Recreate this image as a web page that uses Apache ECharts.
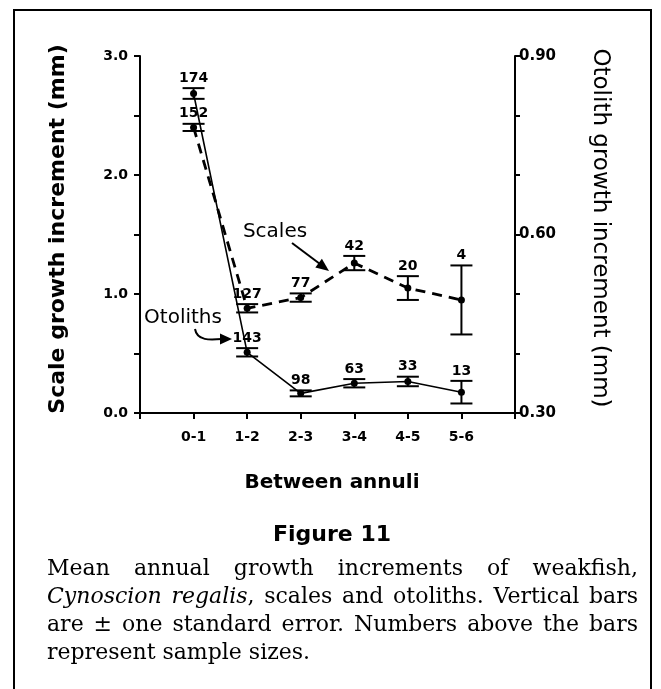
<!DOCTYPE html>
<html lang="en">

<head>
    <meta charset="UTF-8">
    <title>Figure 11</title>
    <style>
        html, body { margin: 0; padding: 0; background: #fff; }
        #chart { width: 661px; height: 689px; }
    </style>
</head>

<body onload="setup()">
    <div id="chart"></div>
    <script src="https://cdn.jsdelivr.net/npm/echarts@6/dist/echarts.min.js"></script>
    <script>
        // annulus intervals on the x axis
        var categories = ['0-1', '1-2', '2-3', '3-4', '4-5', '5-6']

        // scales (left axis, mm), dashed line
        var scaleMean = [2.40, 0.88, 0.97, 1.26, 1.05, 0.95]
        var scaleSE = [0.03, 0.035, 0.035, 0.06, 0.10, 0.29]
        var scaleN = [152, 127, 77, 42, 20, 4]

        // otoliths (right axis, mm), solid line
        var otolithMean = [0.837, 0.402, 0.333, 0.350, 0.353, 0.335]
        var otolithSE = [0.009, 0.007, 0.005, 0.007, 0.008, 0.019]
        var otolithN = [174, 143, 98, 63, 33, 13]

        var leftTicks = [0.0, 1.0, 2.0, 3.0]
        var rightTicks = [0.30, 0.60, 0.90]

        // caption lines, *word* = italic
        var captionLines = [
            'Mean annual growth increments of weakfish,',
            '*Cynoscion* *regalis*, scales and otoliths. Vertical bars',
            'are \u00b1 one standard error. Numbers above the bars',
            'represent sample sizes.'
        ]

        var sans = '"DejaVu Sans", sans-serif'
        var serif = '"DejaVu Serif", serif'
        var capSize = 22
        var chart

        function setup() {
            chart = echarts.init(document.getElementById('chart'), null, { renderer: 'canvas' })
            chart.setOption(buildOption())
        }

        function linePoints(mean) {
            return mean.map(function (v, i) { return [i + 1, v] })
        }

        function barPoints(mean, se, n) {
            return mean.map(function (v, i) { return [i + 1, v, v - se[i], v + se[i], n[i]] })
        }

        function errorBar(params, api) {
            var x = api.value(0)
            var p = api.coord([x, api.value(1)])
            var lo = api.coord([x, api.value(2)])
            var hi = api.coord([x, api.value(3)])
            var w = 11
            var st = { stroke: '#000', lineWidth: 2 }
            return {
                type: 'group',
                children: [
                    { type: 'line', shape: { x1: p[0], y1: lo[1], x2: p[0], y2: hi[1] }, style: st },
                    { type: 'line', shape: { x1: p[0] - w, y1: hi[1], x2: p[0] + w, y2: hi[1] }, style: st },
                    { type: 'line', shape: { x1: p[0] - w, y1: lo[1], x2: p[0] + w, y2: lo[1] }, style: st },
                    { type: 'circle', shape: { cx: p[0], cy: p[1], r: 3.5 }, style: { fill: '#000' } },
                    {
                        type: 'text', x: p[0], y: hi[1] - 3,
                        style: {
                            text: String(api.value(4)), align: 'center', verticalAlign: 'bottom',
                            fontFamily: sans, fontWeight: 'bold', fontSize: 14, fill: '#000'
                        }
                    }
                ]
            }
        }

        function arrowHead(tx, ty, dx, dy, len, half) {
            var d = Math.sqrt(dx * dx + dy * dy)
            var ux = dx / d, uy = dy / d
            var bx = tx - ux * len, by = ty - uy * len
            return {
                type: 'polygon',
                shape: { points: [[tx, ty], [bx - uy * half, by + ux * half], [bx + uy * half, by - ux * half]] },
                style: { fill: '#000' }
            }
        }

        // justified caption: every word is its own text element
        var measureCtx = document.createElement('canvas').getContext('2d')
        function measure(str, italic) {
            measureCtx.font = (italic ? 'italic ' : '') + capSize + 'px ' + serif
            return measureCtx.measureText(str).width
        }

        function captionGraphics(left, right, top, lh) {
            var out = []
            captionLines.forEach(function (line, li) {
                var words = line.split(' ').map(function (w) {
                    var m = w.match(/^\*(.+)\*(.*)$/)
                    if (m) return { text: '{i|' + m[1] + '}' + m[2], width: measure(m[1], true) + measure(m[2], false) }
                    return { text: w, width: measure(w, false) }
                })
                var total = words.reduce(function (s, w) { return s + w.width }, 0)
                var last = li === captionLines.length - 1
                var gap = last ? measure(' ', false) : (right - left - total) / (words.length - 1)
                var x = left
                words.forEach(function (w) {
                    out.push({
                        type: 'text', x: x, y: top + li * lh,
                        style: {
                            text: w.text, align: 'left', verticalAlign: 'middle',
                            fontFamily: serif, fontSize: capSize, fill: '#000',
                            rich: { i: { fontStyle: 'italic', fontFamily: serif, fontSize: capSize, fill: '#000' } }
                        }
                    })
                    x += w.width + gap
                })
            })
            return out
        }

        function buildOption() {
            var labelStyle = { color: '#000', fontFamily: sans, fontWeight: 'bold' }
            return {
                animation: false,
                backgroundColor: '#fff',
                grid: { left: 140, right: 146, top: 56, bottom: 276 },
                xAxis: {
                    type: 'value', min: 0, max: 7, interval: 1,
                    axisLine: { onZero: false, lineStyle: { color: '#000', width: 2 } },
                    axisTick: { length: 6, lineStyle: { color: '#000', width: 2 } },
                    splitLine: { show: false },
                    axisLabel: Object.assign({
                        fontSize: 14, margin: 17,
                        formatter: function (v) { return categories[v - 1] || '' }
                    }, labelStyle)
                },
                yAxis: [{
                    type: 'value', min: 0, max: 3, interval: 0.5, position: 'left',
                    axisLine: { show: true, lineStyle: { color: '#000', width: 2 } },
                    axisTick: { show: true, length: 6, lineStyle: { color: '#000', width: 2 } },
                    splitLine: { show: false },
                    axisLabel: Object.assign({
                        fontSize: 14, margin: 12,
                        formatter: function (v) {
                            return leftTicks.indexOf(v) >= 0 ? v.toFixed(1) : ''
                        }
                    }, labelStyle)
                }, {
                    type: 'value', min: 0.3, max: 0.9, interval: 0.1, position: 'right',
                    axisLine: { show: true, lineStyle: { color: '#000', width: 2 } },
                    axisTick: { show: true, length: 5, lineStyle: { color: '#000', width: 2 } },
                    splitLine: { show: false },
                    axisLabel: Object.assign({
                        fontSize: 15, margin: 4,
                        formatter: function (v) {
                            var hit = rightTicks.some(function (t) { return Math.abs(t - v) < 1e-6 })
                            return hit ? v.toFixed(2) : ''
                        }
                    }, labelStyle)
                }],
                series: [{
                    name: 'Scales', type: 'line', yAxisIndex: 0, symbol: 'none',
                    data: linePoints(scaleMean),
                    lineStyle: { color: '#000', width: 2.8, type: [10, 7] }
                }, {
                    name: 'Otoliths', type: 'line', yAxisIndex: 1, symbol: 'none',
                    data: linePoints(otolithMean),
                    lineStyle: { color: '#000', width: 1.6 }
                }, {
                    name: 'Scales SE', type: 'custom', yAxisIndex: 0,
                    renderItem: errorBar, data: barPoints(scaleMean, scaleSE, scaleN)
                }, {
                    name: 'Otoliths SE', type: 'custom', yAxisIndex: 1,
                    renderItem: errorBar, data: barPoints(otolithMean, otolithSE, otolithN)
                }],
                graphic: [
                    // frame
                    { type: 'rect', shape: { x: 14, y: 10, width: 637, height: 700 }, style: { fill: 'none', stroke: '#000', lineWidth: 2 } },
                    // axis titles
                    {
                        type: 'text', x: 58, y: 229, rotation: Math.PI / 2,
                        style: { text: 'Scale growth increment (mm)', align: 'center', verticalAlign: 'middle', fontFamily: sans, fontWeight: 'bold', fontSize: 22, fill: '#000' }
                    },
                    {
                        type: 'text', x: 600, y: 228, rotation: -Math.PI / 2,
                        style: { text: 'Otolith growth increment (mm)', align: 'center', verticalAlign: 'middle', fontFamily: sans, fontSize: 23, fill: '#000' }
                    },
                    {
                        type: 'text', x: 332, y: 483,
                        style: { text: 'Between annuli', align: 'center', verticalAlign: 'middle', fontFamily: sans, fontWeight: 'bold', fontSize: 20, fill: '#000' }
                    },
                    // annotations
                    {
                        type: 'text', x: 275, y: 232,
                        style: { text: 'Scales', align: 'center', verticalAlign: 'middle', fontFamily: sans, fontSize: 20, fill: '#000' }
                    },
                    { type: 'line', shape: { x1: 292, y1: 243, x2: 320, y2: 264 }, style: { stroke: '#000', lineWidth: 2 } },
                    arrowHead(329, 271, 36, 27, 13, 5.5),
                    {
                        type: 'text', x: 183, y: 318,
                        style: { text: 'Otoliths', align: 'center', verticalAlign: 'middle', fontFamily: sans, fontSize: 20, fill: '#000' }
                    },
                    {
                        type: 'bezierCurve',
                        shape: { x1: 195, y1: 329, cpx1: 197, cpy1: 341, cpx2: 210, cpy2: 340, x2: 222, y2: 339 },
                        style: { stroke: '#000', lineWidth: 2, fill: 'none' }
                    },
                    arrowHead(232, 339, 1, 0, 12, 5.5),
                    // figure caption
                    {
                        type: 'text', x: 332, y: 535,
                        style: { text: 'Figure 11', align: 'center', verticalAlign: 'middle', fontFamily: sans, fontWeight: 'bold', fontSize: 22, fill: '#000' }
                    }
                ].concat(captionGraphics(47, 638, 569, 28))
            }
        }
    </script>
</body>

</html>
